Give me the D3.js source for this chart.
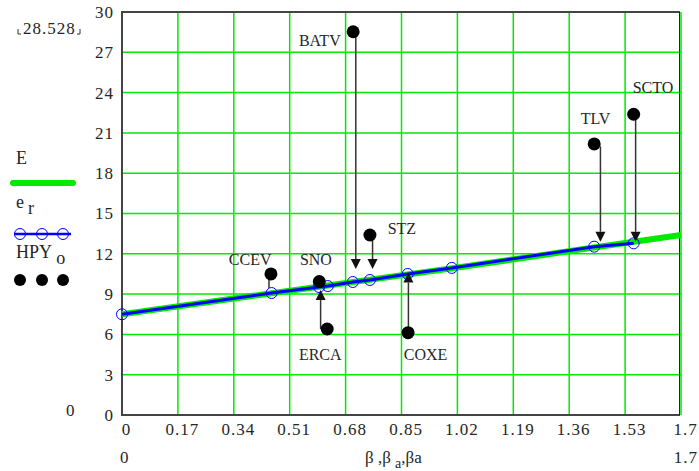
<!DOCTYPE html>
<html>
<head>
<meta charset="utf-8">
<script src="https://cdn.jsdelivr.net/npm/d3@7"></script>
<style>
  body { margin: 0; background: #fff; }
  text { font-family: "Liberation Serif", "DejaVu Serif", serif; fill: #262626; }
</style>
</head>
<body>
<svg id="chart" width="699" height="471"></svg>
<script>
// E curve (green)
const eX = [0, 0.45, 1.0, 1.43, 1.7];
const eY = [7.5, 9.05, 10.9, 12.45, 13.4];

// e_r points (blue, open circles)
const erX = [0, 0.455, 0.599, 0.626, 0.702, 0.754, 0.869, 1.003, 1.436, 1.556];
const erY = [7.5, 9.08, 9.53, 9.6, 9.9, 10.05, 10.5, 10.95, 12.53, 12.78];

// HPY_o points (black dots)
const hpyX = [0.453, 0.60, 0.624, 0.703, 0.754, 0.87, 1.436, 1.556];
const hpyY = [10.5, 9.93, 6.4, 28.528, 13.4, 6.13, 20.18, 22.39];

// annotations: names, label anchor, arrow x and span
const names  = ["CCEV", "SNO", "ERCA", "BATV", "STZ", "COXE", "TLV", "SCTO"];
const labelX = [0.325, 0.541, 0.538, 0.538, 0.808, 0.857, 1.395, 1.553];
const labelY = [11.6, 11.6, 4.54, 27.92, 13.92, 4.54, 22.1, 24.35];
const arrowX    = [0.447, null, 0.604, 0.711, 0.762, 0.871, 1.455, 1.562];
const arrowFrom = [10.5, null, 6.4, 28.3, 13.2, 6.3, 20.0, 22.2];
const arrowTo   = [9.45, null, 9.3, 10.87, 10.87, 10.6, 12.9, 12.9];
const arrowHead = [false, false, true, true, true, true, true, true];

const xTicks = [0, 0.17, 0.34, 0.51, 0.68, 0.85, 1.02, 1.19, 1.36, 1.53, 1.7];
const yTicks = [0, 3, 6, 9, 12, 15, 18, 21, 24, 27, 30];

const margin = { top: 12, right: 18, bottom: 56, left: 122 };
const width = 699 - margin.left - margin.right;
const height = 471 - margin.top - margin.bottom;

const svg = d3.select('#chart');
const g = svg.append('g')
  .attr('transform', `translate(${margin.left}, ${margin.top})`);

const xScale = d3.scaleLinear().domain([0, 1.7]).range([0, width]);
const yScale = d3.scaleLinear().domain([0, 30]).range([height, 0]);

const green = '#00ea00';

// grid
g.selectAll('.vgrid')
  .data(xTicks.slice(1))
  .enter().append('line')
  .attr('x1', d => xScale(d)).attr('x2', d => xScale(d))
  .attr('y1', 0).attr('y2', height)
  .attr('stroke', green).attr('stroke-width', 1.5);

g.selectAll('.hgrid')
  .data(yTicks.slice(1, -1))
  .enter().append('line')
  .attr('x1', 0).attr('x2', width)
  .attr('y1', d => yScale(d)).attr('y2', d => yScale(d))
  .attr('stroke', green).attr('stroke-width', 1.5);

// frame
g.append('path')
  .attr('d', `M${width - 1},0 H0 V${height} H${width - 1}`)
  .attr('fill', 'none').attr('stroke', '#444').attr('stroke-width', 2);
g.append('line')
  .attr('x1', width - 1.5).attr('x2', width - 1.5)
  .attr('y1', 0).attr('y2', height)
  .attr('stroke', '#222').attr('stroke-width', 1);

// axes (labels only)
const yAxis = d3.axisLeft(yScale).tickValues(yTicks).tickSize(0).tickPadding(8);
const yg = g.append('g').call(yAxis);
yg.select('.domain').remove();
yg.selectAll('text')
  .style('font-family', '"Liberation Serif", serif')
  .style('font-size', '17px').style('letter-spacing', '1px').attr('fill', '#262626');

const xAxis = d3.axisBottom(xScale).tickValues(xTicks).tickSize(0).tickPadding(8)
  .tickFormat(d => String(d));
const xg = g.append('g').attr('transform', `translate(0, ${height})`).call(xAxis);
xg.select('.domain').remove();
xg.selectAll('text')
  .attr('dx', 4)
  .style('font-family', '"Liberation Serif", serif')
  .style('font-size', '17px').style('letter-spacing', '1px').attr('fill', '#262626');

// E line
const eLine = d3.line().x(d => xScale(d[0])).y(d => yScale(d[1]));
g.append('path')
  .datum(d3.zip(eX, eY))
  .attr('d', eLine)
  .attr('fill', 'none').attr('stroke', green).attr('stroke-width', 6);

// e_r line + circles
g.append('path')
  .datum(d3.zip(erX, erY))
  .attr('d', eLine)
  .attr('fill', 'none').attr('stroke', '#0000ff').attr('stroke-width', 3);
g.selectAll('.er')
  .data(d3.zip(erX, erY))
  .enter().append('circle')
  .attr('cx', d => xScale(d[0])).attr('cy', d => yScale(d[1]))
  .attr('r', 5.5)
  .attr('fill', 'none').attr('stroke', '#0000ff').attr('stroke-width', 1);

// arrows
const arrows = names.map((n, i) => ({ x: arrowX[i], from: arrowFrom[i], to: arrowTo[i], head: arrowHead[i] }))
  .filter(d => d.x !== null);
arrows.forEach(a => {
  const x = xScale(a.x);
  const y0 = yScale(a.from);
  const y1 = yScale(a.to);
  const dir = y1 > y0 ? 1 : -1;
  const hl = 10;
  g.append('line')
    .attr('x1', x).attr('x2', x)
    .attr('y1', y0).attr('y2', a.head ? y1 - dir * hl : y1)
    .attr('stroke', '#333').attr('stroke-width', 1.5);
  if (a.head) {
    g.append('path')
      .attr('d', `M${x},${y1} L${x - 5},${y1 - dir * hl} L${x + 5},${y1 - dir * hl} Z`)
      .attr('fill', '#111');
  }
});

// HPY dots
g.selectAll('.hpy')
  .data(d3.zip(hpyX, hpyY))
  .enter().append('circle')
  .attr('cx', d => xScale(d[0])).attr('cy', d => yScale(d[1]))
  .attr('r', 6.5)
  .attr('fill', '#000');

// labels
g.selectAll('.lbl')
  .data(names)
  .enter().append('text')
  .attr('x', (d, i) => xScale(labelX[i]))
  .attr('y', (d, i) => yScale(labelY[i]))
  .attr('dy', '0.35em')
  .style('font-size', '16px')
  .text(d => d);

// below-axis row
svg.append('text').attr('x', 120).attr('y', 463).style('font-size', '17px').text('0');
svg.append('text').attr('x', 698).attr('y', 463).attr('text-anchor', 'end')
  .style('font-size', '17px').style('letter-spacing', '1px').text('1.7');
const t = svg.append('text').attr('x', 365).attr('y', 463).style('font-size', '17px');
t.append('tspan').text('β ,β ');
t.append('tspan').attr('dy', 5).style('font-size', '14px').text('a');
t.append('tspan').attr('dy', -5).text(',βa');

// left side: range labels
svg.append('text').attr('x', 66).attr('y', 416).style('font-size', '17px').text('0');
svg.append('text').attr('x', 23).attr('y', 34).style('font-size', '17px')
  .style('letter-spacing', '1px').text(d3.max(hpyY));
svg.append('path').attr('d', 'M18,29 V34 H21 M80,29 V34 H77')
  .attr('fill', 'none').attr('stroke', '#333').attr('stroke-width', 1);

// legend
const legend = svg.append('g');
legend.append('text').attr('x', 16).attr('y', 164).style('font-size', '18px').text('E');
legend.append('line').attr('x1', 13).attr('x2', 73).attr('y1', 183).attr('y2', 183)
  .attr('stroke', green).attr('stroke-width', 6).attr('stroke-linecap', 'round');

const er = legend.append('text').attr('x', 16).attr('y', 208).style('font-size', '18px');
er.append('tspan').text('e');
er.append('tspan').attr('dx', 4).attr('dy', 6).text('r');
legend.append('line').attr('x1', 14).attr('x2', 71).attr('y1', 234).attr('y2', 234)
  .attr('stroke', '#0000ff').attr('stroke-width', 2.5);
legend.selectAll('.lc')
  .data([20, 42, 63])
  .enter().append('circle')
  .attr('cx', d => d).attr('cy', 234).attr('r', 5.5)
  .attr('fill', 'none').attr('stroke', '#0000ff').attr('stroke-width', 1);

const hp = legend.append('text').attr('x', 16).attr('y', 258).style('font-size', '18px');
hp.append('tspan').text('HPY');
hp.append('tspan').attr('dx', 6).attr('dy', 6).text('o');
legend.selectAll('.ld')
  .data([20, 42, 63])
  .enter().append('circle')
  .attr('cx', d => d).attr('cy', 280).attr('r', 6)
  .attr('fill', '#000');
</script>
</body>
</html>
